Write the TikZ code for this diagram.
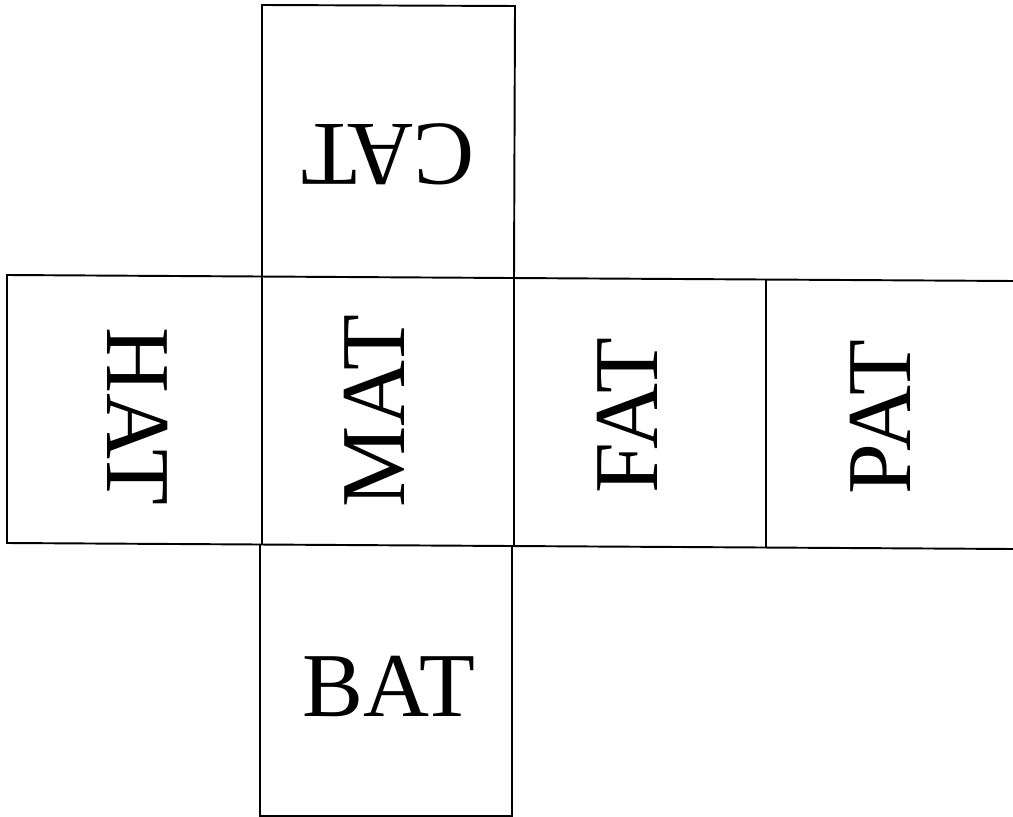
\documentclass[tikz,border=0pt]{standalone}
\usepackage{fontspec}
\setmainfont{Liberation Serif}
\usepackage{tikz}
\tikzset{
  edge/.style={line width=1.1pt,black,line join=miter},
  word/.style={font=\fontsize{52}{52}\selectfont,inner sep=0pt,text height=1.22cm,text depth=0pt,anchor=center}
}
\begin{document}
\begin{tikzpicture}[x=0.02cm,y=-0.02cm]
\useasboundingbox (0,0) rectangle (1013,817);
% top face
\draw[edge] (262,276)--(262,5)--(515,6)--(514,278);
% middle strip
\draw[edge] (1013,281)--(7,275)--(7,543)--(1013,549);
\foreach \x/\ya/\yb in {262/276/545,514/278/547,766/280/548}{\draw[edge] (\x,\ya)--(\x,\yb);}
% bottom face
\draw[edge] (260,545)--(260,816)--(512,816)--(512,547);
% words
\node[word,rotate=180] (cat) at (388,155) {CAT};
\node[word,rotate=-90] (hat) at (138,416) {HAT};
\node[word,rotate=90] (mat) at (374,411) {MAT};
\node[word,rotate=90] (fat) at (627,416) {FAT};
\node[word,rotate=90] (pat) at (880,417) {PAT};
\node[word] (bat) at (389,686) {BAT};
\end{tikzpicture}
\end{document}
